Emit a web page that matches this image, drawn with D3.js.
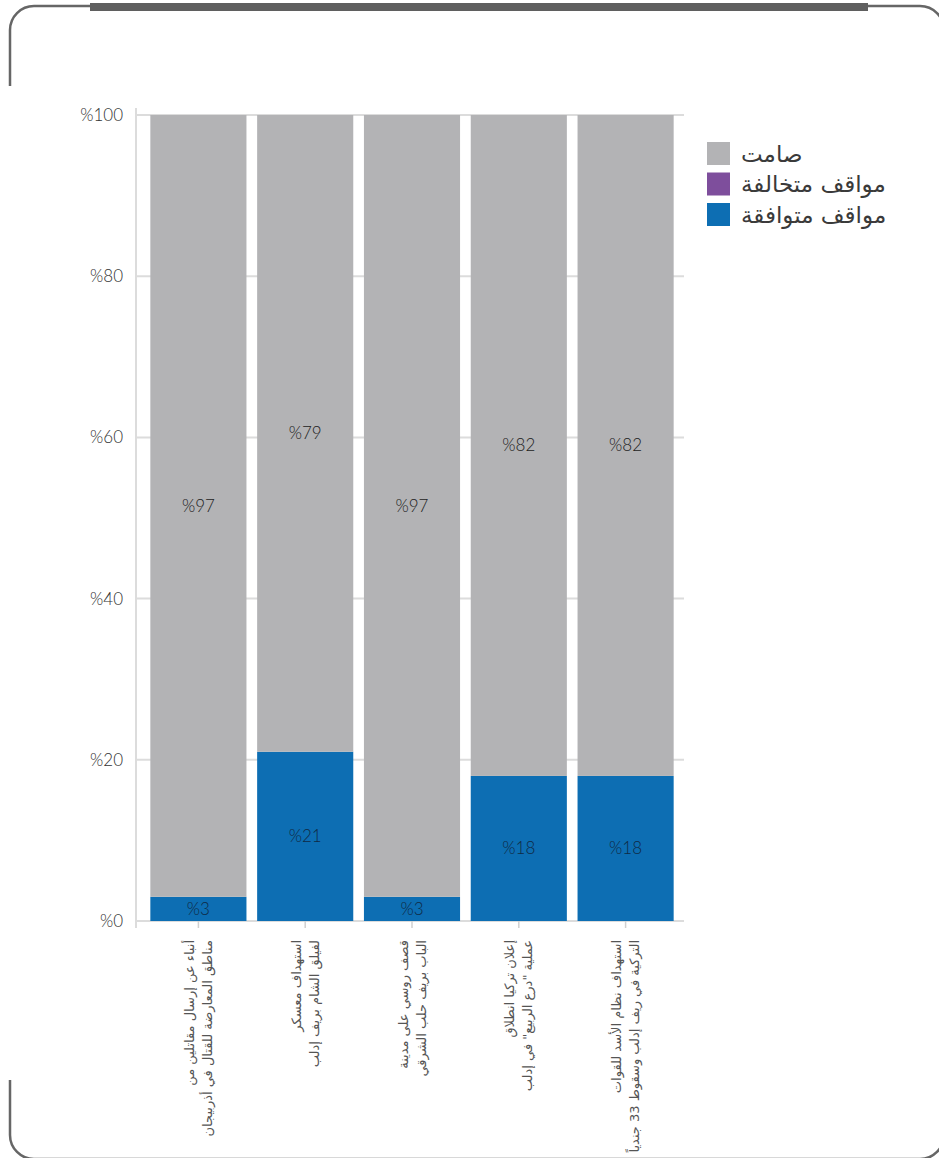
<!DOCTYPE html>
<html>
<head>
<meta charset="utf-8">
<script src="https://cdn.jsdelivr.net/npm/d3@7/dist/d3.min.js"></script>
<style>
  html, body { margin: 0; padding: 0; background: #fff; }
  svg { display: block; }
</style>
</head>
<body>
<svg id="chart" width="939" height="1158"></svg>
<script>
// Events (two-line labels under each bar)
const categories = [
  ["أنباء عن إرسال مقاتلين من", "مناطق المعارضة للقتال في أذربيجان"],
  ["استهداف معسكر", "لفيلق الشام بريف إدلب"],
  ["قصف روسي على مدينة", "الباب بريف حلب الشرقي"],
  ["إعلان تركيا انطلاق", "عملية \"درع الربيع\" في إدلب"],
  ["استهداف نظام الأسد للقوات", "التركية في ريف إدلب وسقوط 33 جندياً"]
];
// Share of positions (%) per event
const supportive = [3, 21, 3, 18, 18];
const opposing   = [0, 0, 0, 0, 0];
const silent     = [97, 79, 97, 82, 82];

const seriesNames = ["مواقف متوافقة", "مواقف متخالفة", "صامت"];
const seriesColors = ["#0d6eb3", "#7e4e9c", "#b3b3b5"];
const yTicks = [0, 20, 40, 60, 80, 100];

const numFont = "Lato, 'DejaVu Sans', sans-serif";
const arFont = "'DejaVu Sans', sans-serif";

const svg = d3.select("#chart");

// Page frame
svg.append("rect")
  .attr("x", 10).attr("y", 6).attr("width", 934).attr("height", 1153)
  .attr("rx", 24).attr("ry", 24)
  .attr("fill", "none").attr("stroke", "#666").attr("stroke-width", 2.5);
svg.append("rect").attr("x", 0).attr("y", 86).attr("width", 22).attr("height", 994).attr("fill", "#fff");
svg.append("rect").attr("x", 90).attr("y", 3).attr("width", 778).attr("height", 8).attr("fill", "#5f5f5f");

const rows = categories.map((c, i) => ({
  key: i,
  "مواقف متوافقة": supportive[i],
  "مواقف متخالفة": opposing[i],
  "صامت": silent[i]
}));

const x = d3.scaleBand().domain(d3.range(categories.length)).range([145, 679])
  .paddingInner(0.1).paddingOuter(0.05);
const y = d3.scaleLinear().domain([0, 100]).range([921, 115]);

const plotLeft = 136, plotRight = 684;

// Gridlines
svg.append("g").selectAll("line").data(yTicks).join("line")
  .attr("x1", plotLeft).attr("x2", plotRight)
  .attr("y1", d => y(d)).attr("y2", d => y(d))
  .attr("stroke", "#dcdcdc").attr("stroke-width", 2);

// Y axis line
svg.append("line").attr("x1", plotLeft).attr("x2", plotLeft)
  .attr("y1", 108).attr("y2", 928).attr("stroke", "#dcdcdc").attr("stroke-width", 2);

// Y tick labels
svg.append("g").selectAll("text").data(yTicks).join("text")
  .attr("x", 123).attr("y", d => y(d)).attr("dy", "0.35em")
  .attr("text-anchor", "end")
  .attr("font-family", numFont).attr("font-weight", 300).attr("font-size", 17)
  .attr("fill", "#333").text(d => "%" + d);

// X tick marks
svg.append("g").selectAll("line").data(d3.range(categories.length)).join("line")
  .attr("x1", d => x(d) + x.bandwidth() / 2).attr("x2", d => x(d) + x.bandwidth() / 2)
  .attr("y1", 921).attr("y2", 928).attr("stroke", "#d0d0d0").attr("stroke-width", 1.5);

// Stacked bars
const stack = d3.stack().keys(seriesNames);
const layers = stack(rows);

const layerG = svg.append("g").selectAll("g").data(layers).join("g")
  .attr("fill", (d, i) => seriesColors[i]);
layerG.selectAll("rect").data(d => d).join("rect")
  .attr("x", d => x(d.data.key))
  .attr("width", x.bandwidth())
  .attr("y", d => y(d[1]))
  .attr("height", d => y(d[0]) - y(d[1]));

// Value labels, centred in each segment
layers.forEach((layer, li) => {
  svg.append("g").selectAll("text").data(layer.filter(d => d[1] - d[0] > 0)).join("text")
    .attr("x", d => x(d.data.key) + x.bandwidth() / 2)
    .attr("y", d => y((d[0] + d[1]) / 2))
    .attr("dy", "0.35em")
    .attr("text-anchor", "middle")
    .attr("font-family", numFont).attr("font-weight", 300).attr("font-size", 17)
    .attr("fill", li === 0 ? "#0f2a45" : "#222")
    .text(d => "%" + (d[1] - d[0]));
});

// Category labels, rotated
categories.forEach((lines, i) => {
  const cx = x(i) + x.bandwidth() / 2;
  const g = svg.append("g").attr("transform", `translate(${cx},940) rotate(-90)`);
  lines.forEach((t, j) => {
    g.append("text")
      .attr("x", 0).attr("y", (j - 0.5) * 18).attr("dy", "0.35em")
      .attr("text-anchor", "end")
      .attr("font-family", arFont).attr("font-size", 13)
      .attr("fill", "#555").text(t);
  });
});

// Legend
const legendOrder = [2, 1, 0];
const lg = svg.append("g");
legendOrder.forEach((si, k) => {
  lg.append("rect").attr("x", 707).attr("y", 142 + k * 30.5).attr("width", 23).attr("height", 23)
    .attr("fill", seriesColors[si]);
  lg.append("text").attr("x", 741).attr("y", 153.5 + k * 30.5).attr("dy", "0.35em")
    .attr("text-anchor", "start")
    .attr("font-family", arFont).attr("font-size", 23)
    .attr("fill", "#3a3a3a").text(seriesNames[si]);
});
</script>
</body>
</html>
